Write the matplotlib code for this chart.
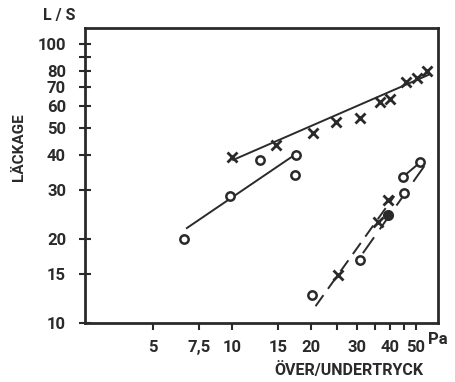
import numpy as np
import matplotlib
matplotlib.use('Agg')
from matplotlib import pyplot as plt

# upper series, crosses
kryss_x = [10, 14.7, 20.4, 24.9, 30.8, 36.7, 40.1, 46.1, 50.8, 55.4]
kryss_y = [39.4, 43.4, 48, 52.5, 54.3, 62, 63.6, 73.1, 75.5, 80]
kryss_linje_x = [10.1, 56]
kryss_linje_y = [38.4, 77.4]

# middle series, circles
ring_x = [6.56, 9.8, 12.8, 17.5, 17.4]
ring_y = [20.0, 28.5, 38.4, 40, 33.9]
ring_linje_x = [6.73, 17.3]
ring_linje_y = [21.9, 40]

# lower series
nedre_ring_x = [20.2, 30.8, 45, 44.6, 52.2]
nedre_ring_y = [12.6, 16.9, 29.3, 33.3, 37.7]
nedre_kryss_x = [25.4, 36.1, 39.1]
nedre_kryss_y = [14.9, 23.0, 27.6]
fylld_x = [39.4]
fylld_y = [24.4]
nedre_linje1_x = [20.8, 41.5]
nedre_linje1_y = [11.5, 28.5]
nedre_linje2_x = [31.5, 54]
nedre_linje2_y = [17.8, 36.5]
kort_linje_x = [44.6, 52.2]
kort_linje_y = [33.3, 37.7]

x_ticks = [5, 7.5, 10, 15, 20, 25, 30, 35, 40, 45, 50]
x_labels = ['5', '7,5', '10', '15', '20', '', '30', '', '40', '', '50']
y_ticks = [10, 15, 20, 30, 40, 50, 60, 70, 80, 90, 100]
y_labels = ['10', '15', '20', '30', '40', '50', '60', '70', '80', '', '100']

plt.rcParams['font.family'] = ['Roboto', 'DejaVu Sans']
plt.rcParams['font.weight'] = 'bold'
ink = '#2a2a2a'

fig = plt.figure(figsize=(4.56, 3.82), dpi=100)
ax = fig.add_axes([0.186, 0.154, 0.775, 0.773])
ax.set_xscale('log')
ax.set_yscale('log')
ax.set_xlim(2.75, 61)
ax.set_ylim(10, 114)

ax.plot(kryss_linje_x, kryss_linje_y, color=ink, lw=1.4)
ax.plot(ring_linje_x, ring_linje_y, color=ink, lw=1.4)
ax.plot(nedre_linje1_x, nedre_linje1_y, color=ink, lw=1.4, dashes=(7, 4))
ax.plot(nedre_linje2_x, nedre_linje2_y, color=ink, lw=1.4, dashes=(10, 5))
ax.plot(kort_linje_x, kort_linje_y, color=ink, lw=1.4)

ax.plot(kryss_x, kryss_y, ls='none', marker='x', ms=6.5, mew=2, color=ink)
ax.plot(nedre_kryss_x, nedre_kryss_y, ls='none', marker='x', ms=6.5, mew=2, color=ink)
ax.plot(ring_x, ring_y, ls='none', marker='o', ms=6, mew=1.8, mfc='white', mec=ink)
ax.plot(nedre_ring_x, nedre_ring_y, ls='none', marker='o', ms=6, mew=1.8, mfc='white', mec=ink)
ax.plot(fylld_x, fylld_y, ls='none', marker='o', ms=7, color=ink)

for s in ax.spines.values():
    s.set_linewidth(2)
    s.set_color(ink)

ax.xaxis.set_minor_locator(matplotlib.ticker.NullLocator())
ax.yaxis.set_minor_locator(matplotlib.ticker.NullLocator())
ax.set_xticks(x_ticks)
ax.set_xticklabels(x_labels)
ax.set_yticks(y_ticks)
ax.set_yticklabels(y_labels)
ax.tick_params(axis='x', direction='out', length=5, width=1.5, color=ink,
               labelsize=12, labelcolor=ink, pad=7)
ax.tick_params(axis='y', direction='inout', length=9, width=1.5, color=ink,
               labelsize=12, labelcolor=ink, pad=9)

fig.text(0.13, 0.94, 'L / S', fontsize=11.5, color=ink, ha='center', va='bottom')
fig.text(0.042, 0.615, 'LÄCKAGE', fontsize=11, color=ink, rotation=90,
         ha='center', va='center')
fig.text(0.938, 0.11, 'Pa', fontsize=12, color=ink, ha='left', va='center')
fig.text(0.765, 0.031, 'ÖVER/UNDERTRYCK', fontsize=11.5, color=ink,
         ha='center', va='center')

fig.savefig('out.png', dpi=100, facecolor='white')
